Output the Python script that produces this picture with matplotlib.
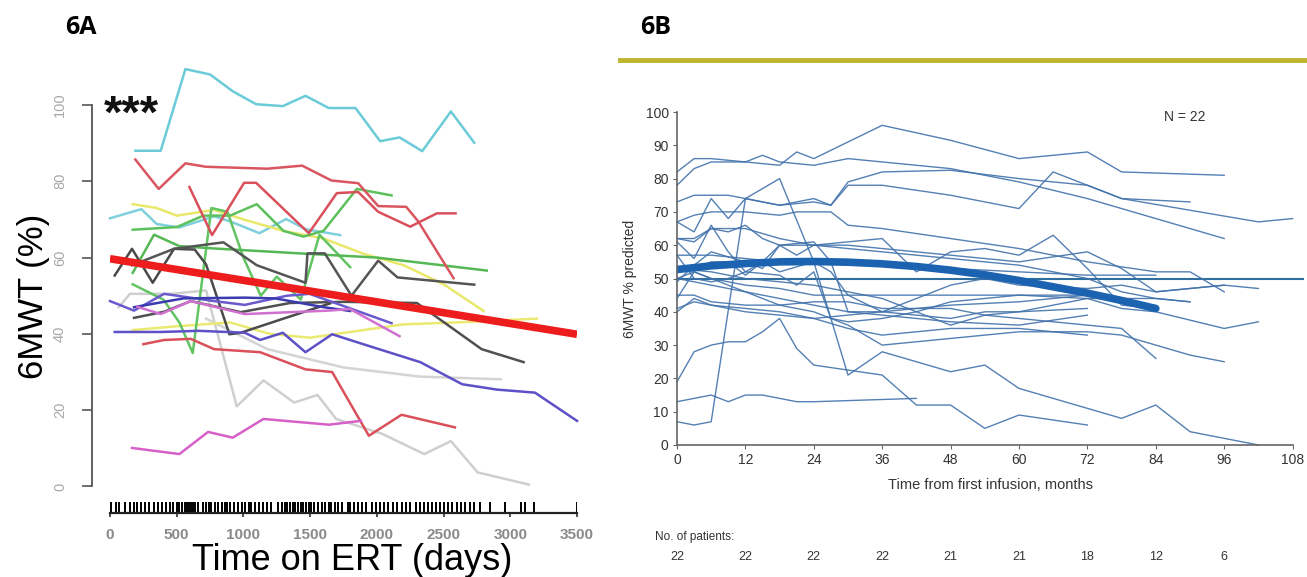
import matplotlib.pyplot as plt
import numpy as np

W, H = 1307, 577

# ---------------- panel 6A data (days, 6MWT %) ----------------
a_cyan1 = [(190, 88), (380, 88), (565, 109.4), (750, 108), (920, 103.6), (1095, 100.2),
           (1295, 99.7), (1465, 102.4), (1640, 99.2), (1840, 99.2), (2025, 90.5),
           (2170, 91.5), (2340, 87.9), (2555, 98.3), (2730, 90.1)]
a_cyan2 = [(0, 70.3), (235, 72.7), (350, 68.8), (520, 67.9), (780, 70.8), (900, 69.5),
           (1120, 66.4), (1320, 70.1), (1470, 67.4), (1725, 65.9)]
a_red1 = [(190, 85.7), (365, 78), (565, 84.7), (720, 83.8), (1180, 83.3), (1440, 84.1),
          (1660, 80.2), (1860, 79.5), (2010, 73.5), (2220, 73.3), (2310, 69.5), (2575, 54.6)]
a_red2 = [(595, 78.5), (765, 65.9), (1005, 79.6), (1095, 79.6), (1490, 66.4), (1700, 76.9),
          (1860, 77.2), (2010, 72), (2250, 68.1), (2450, 71.6), (2590, 71.6)]
a_red3 = [(250, 37.3), (405, 38.4), (605, 38.7), (780, 36), (1125, 35.2), (1465, 30.7),
          (1665, 30), (1940, 13.3), (2185, 18.8), (2585, 15.5)]
a_green1 = [(170, 67.3), (500, 68), (700, 71), (900, 71), (1100, 74), (1300, 67),
            (1450, 65.5), (1600, 67), (1850, 78), (2110, 76.3)]
a_green2 = [(170, 53), (400, 49), (520, 43), (620, 35), (760, 73), (880, 72), (1000, 60),
            (1130, 50), (1250, 55), (1430, 49), (1570, 66), (1800, 57.5)]
a_green3 = [(170, 56), (330, 66), (520, 63), (775, 62.4), (1424, 61.1), (2000, 60), (2824, 56.6)]
a_yellow1 = [(170, 74), (350, 73), (500, 71), (780, 72.5), (1000, 70), (1300, 67),
             (1600, 65), (1900, 61), (2200, 58), (2500, 53), (2800, 46)]
a_yellow2 = [(170, 41), (500, 42), (900, 43), (1200, 40), (1500, 39), (1800, 40.5),
             (2200, 42.5), (2600, 43), (3200, 44)]
a_black1 = [(35, 55.3), (165, 62.3), (320, 53.4), (480, 62.3), (635, 62.1), (720, 58.2),
            (895, 39.9), (980, 40.3), (1300, 44), (1650, 48)]
a_black2 = [(165, 58), (480, 62.3), (850, 64), (1100, 58), (1465, 53.4), (1480, 61.1),
            (1610, 61.1), (1810, 50), (2010, 59.2), (2155, 54.8), (2730, 52.9)]
a_black3 = [(180, 44.2), (405, 45.8), (605, 48.6), (980, 45.7), (1350, 48.1), (1750, 48.4),
            (2300, 48.1), (2785, 36), (3100, 32.6)]
a_purple1 = [(0, 48.6), (180, 46.1), (405, 50.5), (780, 48.6), (1010, 47.6), (1325, 50),
             (1495, 50.5), (2110, 42.8)]
a_purple2 = [(35, 40.5), (380, 40.5), (665, 40.8), (1010, 40.3), (1125, 38.4), (1295, 40.3),
             (1465, 35.2), (1665, 39.9), (1925, 37), (2325, 32.6), (2640, 26.8),
             (2900, 25.4), (3185, 24.6), (3500, 17.2)]
a_purple3 = [(180, 47), (550, 49.3), (1010, 49.5), (1240, 49.3), (1600, 47), (1800, 46)]
a_magenta1 = [(165, 10.1), (520, 8.5), (735, 14.3), (920, 12.8), (1150, 17.7), (1640, 16.2),
              (1880, 17.2)]
a_magenta2 = [(205, 47.1), (380, 45.2), (605, 48.6), (1010, 45.2), (1640, 46.1), (1800, 46.5),
              (2170, 39.4)]
a_gray1 = [(65, 47), (150, 50.5), (465, 50.5), (720, 51.4), (950, 21), (1150, 27.8),
           (1380, 22), (1555, 24), (1695, 17.7), (2040, 13.8), (2355, 8.5), (2555, 11.9),
           (2755, 3.7), (3140, 0.5)]
a_gray2 = [(720, 44), (1180, 36), (1750, 31.2), (2325, 28.8), (2930, 28.1)]
a_fit = [(0, 59.7), (3500, 39.9)]

a_series = [
    (a_cyan1, '#6ccbd8'), (a_cyan2, '#7fd0dc'),
    (a_gray1, '#cfcfcf'), (a_gray2, '#d4d4d4'),
    (a_yellow1, '#e9e86a'), (a_yellow2, '#eaea72'),
    (a_green1, '#5cc15c'), (a_green2, '#62c462'), (a_green3, '#55b855'),
    (a_red1, '#d95560'), (a_red2, '#d9505a'), (a_red3, '#d9505a'),
    (a_black1, '#4a4a4a'), (a_black2, '#555555'), (a_black3, '#505050'),
    (a_purple1, '#6a5acd'), (a_purple2, '#5e50c8'), (a_purple3, '#3b3bb0'),
    (a_magenta1, '#d660c8'), (a_magenta2, '#d070d0'),
]

rug_days = [10, 45, 70, 110, 150, 180, 200, 230, 260, 290, 330, 360, 390, 420, 450, 470,
            500, 520, 540, 560, 575, 590, 610, 625, 640, 660, 700, 720, 740, 760, 790, 810,
            840, 860, 880, 900, 930, 960, 990, 1010, 1040, 1060, 1090, 1120, 1150, 1180,
            1210, 1260, 1290, 1310, 1330, 1350, 1370, 1390, 1410, 1430, 1450, 1470, 1490,
            1510, 1530, 1560, 1590, 1610, 1640, 1660, 1690, 1710, 1740, 1780, 1800, 1830,
            1860, 1890, 1920, 1960, 1990, 2020, 2050, 2080, 2120, 2150, 2190, 2220, 2250,
            2290, 2320, 2350, 2380, 2410, 2440, 2470, 2500, 2530, 2560, 2600, 2630, 2660,
            2700, 2730, 2770, 2850, 2960, 3080, 3110, 3180, 3500]

a_xticks = [0, 500, 1000, 1500, 2000, 2500, 3000, 3500]
a_yticks = [0, 20, 40, 60, 80, 100]

# ---------------- panel 6B data (months, 6MWT % predicted) ----------------
b_lines = [
    [(0, 82), (3, 86), (6, 86), (12, 85), (15, 87), (18, 85), (24, 84), (30, 86), (36, 85),
     (48, 83), (60, 79), (72, 74), (84, 68), (96, 62)],
    [(0, 78), (3, 83), (6, 85), (12, 85), (18, 84), (21, 88), (24, 86), (36, 96), (48, 91.5),
     (60, 86), (72, 88), (78, 82), (96, 81)],
    [(0, 73), (3, 75), (9, 75), (12, 74), (18, 72), (24, 73), (27, 72), (30, 79), (36, 82),
     (48, 82.5), (60, 80), (72, 78), (78, 74), (102, 67), (108, 68)],
    [(0, 67), (3, 64), (6, 74), (9, 68), (12, 74), (18, 72), (24, 74), (27, 72), (30, 78),
     (36, 78), (48, 75), (60, 71), (66, 82), (72, 78), (78, 74), (90, 73)],
    [(0, 67), (3, 69), (6, 70), (12, 70), (18, 69), (21, 70), (27, 70), (30, 66), (36, 65),
     (48, 62), (60, 59), (66, 57), (72, 55), (84, 52), (90, 52), (96, 46)],
    [(0, 62), (3, 61), (6, 65), (9, 64), (12, 66), (15, 62), (18, 60), (24, 60), (30, 61),
     (36, 62), (42, 52), (48, 58), (54, 59), (60, 57), (66, 63), (72, 53), (78, 42), (84, 41)],
    [(0, 61), (3, 56), (6, 66), (9, 58), (12, 52), (15, 55), (18, 60), (21, 57), (24, 60),
     (30, 60), (36, 59), (48, 57), (60, 55), (72, 58), (78, 53), (84, 46), (90, 47), (96, 48)],
    [(0, 57), (6, 57), (12, 56), (18, 55), (24, 55), (36, 54), (48, 53), (60, 52), (72, 51),
     (84, 51)],
    [(0, 52), (3, 53), (6, 55), (9, 55), (12, 51), (15, 55), (18, 52), (24, 55), (27, 52),
     (30, 45), (36, 40), (42, 44), (48, 48), (54, 50), (60, 48), (72, 47), (78, 48), (84, 46),
     (96, 48), (102, 47)],
    [(0, 50), (3, 52), (6, 50), (12, 48), (18, 47), (24, 45), (30, 45), (36, 45), (48, 45),
     (60, 45), (72, 44), (84, 44), (90, 43)],
    [(0, 49), (3, 54), (6, 58), (12, 55), (15, 53), (18, 60), (24, 61), (27, 55), (30, 40),
     (36, 40), (48, 38), (54, 40), (60, 40), (72, 41)],
    [(0, 45), (3, 45), (6, 43), (12, 42), (18, 42), (24, 43), (30, 43), (36, 41), (42, 41),
     (48, 42), (60, 43), (72, 45)],
    [(0, 44), (3, 52), (6, 50), (12, 46), (18, 44), (24, 42), (30, 40), (36, 39), (48, 37),
     (60, 36), (72, 39)],
    [(0, 41), (3, 43), (6, 42), (12, 41), (18, 40), (24, 38), (30, 35), (36, 33), (42, 34),
     (48, 35), (60, 35), (72, 33)],
    [(0, 40), (3, 44), (6, 42), (12, 40), (18, 39), (24, 38), (30, 39), (36, 40), (42, 41),
     (48, 41), (54, 39), (60, 38), (66, 37), (72, 36), (78, 35), (84, 26)],
    [(0, 53), (6, 52), (12, 50), (18, 49), (24, 48), (30, 46), (36, 44), (42, 40), (48, 36),
     (54, 39), (60, 40), (66, 42), (72, 44), (78, 41), (84, 40), (96, 35), (102, 37)],
    [(0, 50), (6, 48), (12, 46), (18, 42), (24, 40), (30, 36), (36, 30), (42, 31), (48, 32),
     (60, 34), (72, 34), (78, 33), (84, 30), (90, 27), (96, 25)],
    [(0, 19), (3, 28), (6, 30), (9, 31), (12, 31), (15, 34), (18, 38), (21, 29), (24, 24),
     (30, 22.5), (36, 21), (42, 12), (48, 12), (54, 5), (60, 9), (72, 6)],
    [(0, 13), (3, 14), (6, 15), (9, 13), (12, 15), (15, 15), (18, 14), (21, 13), (24, 13),
     (42, 14)],
    [(0, 7), (3, 6), (6, 7), (12, 74), (15, 77), (18, 80), (24, 55), (30, 21), (36, 28),
     (42, 25), (48, 22), (54, 24), (60, 17), (72, 11), (78, 8), (84, 12), (90, 4), (102, 0)],
    [(0, 62), (3, 62), (6, 65), (12, 65), (18, 62), (24, 60), (30, 59), (36, 58), (48, 56),
     (60, 54), (72, 50), (78, 46), (84, 44), (90, 43)],
    [(0, 57), (3, 50), (6, 49), (9, 50), (12, 52), (18, 51), (21, 48), (24, 52), (27, 38),
     (30, 37), (36, 38), (42, 40), (48, 43), (60, 45), (72, 45)],
]
b_fit_months = [0, 6, 12, 18, 24, 30, 36, 42, 48, 54, 60, 66, 72, 78, 84]
b_fit_values = [52.7, 53.8, 54.5, 55.0, 55.1, 54.9, 54.4, 53.6, 52.5, 51.1, 49.4, 47.5, 45.6, 43.4, 41.0]
b_ref_value = 50
b_xticks = list(range(0, 109, 12))
b_yticks = list(range(0, 101, 10))
b_patients = [22, 22, 22, 22, 21, 21, 18, 12, 6]

plt.rcParams['font.family'] = ['Liberation Sans', 'DejaVu Sans']
fig = plt.figure(figsize=(W / 100, H / 100), dpi=100)

# ---------------- panel 6A ----------------
ax1 = fig.add_axes([110 / W, 1 - 513.2 / H, 467 / W, 454 / H])
ax1.set_xlim(0, 3500)
ax1.set_ylim(-7, 112)
for pts, col in a_series:
    d, v = zip(*pts)
    ax1.plot(d, v, color=col, lw=1.8, solid_joinstyle='round', clip_on=False)
d, v = zip(*a_fit)
ax1.plot(d, v, color='#ee1d1d', lw=5.5, solid_capstyle='butt')
ax1.vlines(rug_days, -7, -4.0, color='black', lw=1.4)

ax1.spines['top'].set_visible(False)
ax1.spines['right'].set_visible(False)
ax1.spines['left'].set_position(('outward', 13))
ax1.spines['left'].set_bounds(0, 100)
ax1.spines['bottom'].set_bounds(0, 3500)
ax1.spines['left'].set_color('#555555')
ax1.spines['left'].set_linewidth(1.3)
ax1.spines['bottom'].set_color('#222222')
ax1.spines['bottom'].set_linewidth(1.6)
ax1.set_xticks(a_xticks)
ax1.set_yticks(a_yticks)
ax1.tick_params(axis='x', length=3, width=1.2, color='#333333', pad=8, labelsize=11,
                labelcolor='#8a8a8a')
ax1.tick_params(axis='y', length=7, width=1.2, color='#555555', pad=11, labelsize=10.5,
                labelcolor='#a8a8a8', labelrotation=90)
for lbl in ax1.get_yticklabels():
    lbl.set_va('center')
for lbl in ax1.get_xticklabels():
    lbl.set_fontweight('bold')

fig.text(33 / W, 1 - 296 / H, '6MWT (%)', rotation=90, fontsize=25, ha='center', va='center')
fig.text(352 / W, 1 - 560 / H, 'Time on ERT (days)', fontsize=26, ha='center', va='center')
fig.text(104 / W, 1 - 116 / H, '***', fontsize=34, ha='left', va='center', color='#111111',
         fontweight='bold')
fig.text(65 / W, 1 - 28 / H, '6A', fontsize=18, fontweight='bold', ha='left', va='center',
         family=['Open Sans', 'DejaVu Sans'])
fig.text(640 / W, 1 - 28 / H, '6B', fontsize=18, fontweight='bold', ha='left', va='center',
         family=['Open Sans', 'DejaVu Sans'])
fig.add_artist(plt.Line2D([620 / W, 1.0], [1 - 60 / H, 1 - 60 / H], color='#bdb52c', lw=3.5))

# ---------------- panel 6B ----------------
ax2 = fig.add_axes([677 / W, 1 - 445 / H, 627 / W, 333 / H])
ax2.set_xlim(0, 110)
ax2.set_ylim(0, 100)
ax2.axhline(b_ref_value, color='#2f6f9f', lw=1.5)
for pts in b_lines:
    m, v = zip(*pts)
    ax2.plot(m, v, color='#4172ab', lw=1.0, alpha=0.9, clip_on=False)
ax2.plot(b_fit_months, b_fit_values, color='#1b62b0', lw=5.5, solid_capstyle='round')

ax2.spines['top'].set_visible(False)
ax2.spines['right'].set_visible(False)
ax2.spines['left'].set_bounds(0, 100)
ax2.spines['bottom'].set_bounds(0, 108)
for s in ('left', 'bottom'):
    ax2.spines[s].set_color('#666666')
    ax2.spines[s].set_linewidth(1.2)
ax2.set_xticks(b_xticks)
ax2.set_yticks(b_yticks)
ax2.tick_params(length=3, width=0.8, color='#666666', labelsize=10, labelcolor='#333333', pad=3)
ax2.set_xlabel('Time from first infusion, months', fontsize=10.5, color='#333333', labelpad=8)
ax2.set_ylabel('6MWT % predicted', fontsize=10, color='#333333', labelpad=6)
ax2.text(0.81, 0.985, 'N = 22', transform=ax2.transAxes, fontsize=10, color='#333333',
         ha='center', va='center')

fig.text(655 / W, 1 - 537 / H, 'No. of patients:', fontsize=8.5, color='#333333',
         ha='left', va='center')
for mo, n in zip(b_xticks, b_patients):
    x_fig = (677 + mo * 627 / 110) / W
    fig.text(x_fig, 1 - 557 / H, str(n), fontsize=9, color='#333333', ha='center', va='center')

fig.savefig('out.png', dpi=100)
